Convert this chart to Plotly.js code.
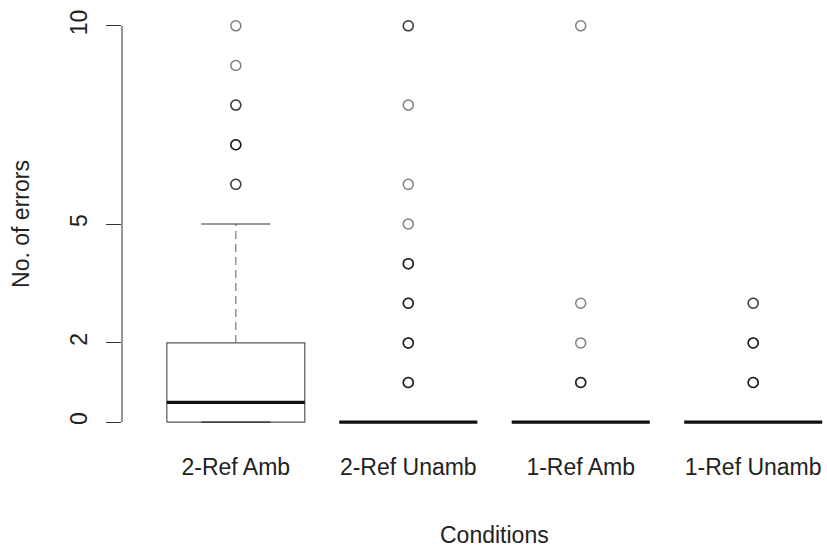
<!DOCTYPE html>
<html>
<head>
<meta charset="utf-8">
<script src="https://cdn.plot.ly/plotly-3.0.1.min.js"></script>
<style>html,body{margin:0;padding:0;background:#fff;}#chart{width:827px;height:549px;}</style>
</head>
<body>
<div id="chart"></div>
<script>
// ---- data ----
var categories = ["2-Ref Amb", "2-Ref Unamb", "1-Ref Amb", "1-Ref Unamb"];
var q1 = [0, 0, 0, 0];
var median = [0.5, 0, 0, 0];
var q3 = [2, 0, 0, 0];
var lowerWhisker = [0, 0, 0, 0];
var upperWhisker = [5, 0, 0, 0];
var outliers2RefAmb = [6, 6, 7, 7, 7, 8, 8, 9, 10];
var outliers2RefUnamb = [1, 1, 1, 2, 2, 2, 3, 3, 3, 4, 4, 4, 5, 6, 8, 10, 10];
var outliers1RefAmb = [1, 1, 1, 2, 3, 10];
var outliers1RefUnamb = [1, 1, 1, 2, 2, 2, 3, 3];
var yTicks = [0, 2, 5, 10];
var xTitle = "Conditions";
var yTitle = "No. of errors";

var outlierGroups = [outliers2RefAmb, outliers2RefUnamb, outliers1RefAmb, outliers1RefUnamb];

// ---- build box geometry from data ----
var boxW = 0.4, capW = 0.2;
var bx = [], by = [], mx = [], my = [], wx = [], wy = [], sx = [], sy = [];
categories.forEach(function (c, i) {
  var p = i + 1;
  bx.push(p - boxW, p + boxW, p + boxW, p - boxW, p - boxW, null);
  by.push(q1[i], q1[i], q3[i], q3[i], q1[i], null);
  mx.push(p - boxW, p + boxW, null);
  my.push(median[i], median[i], null);
  wx.push(p, p, null, p, p, null);
  wy.push(q3[i], upperWhisker[i], null, q1[i], lowerWhisker[i], null);
  sx.push(p - capW, p + capW, null, p - capW, p + capW, null);
  sy.push(upperWhisker[i], upperWhisker[i], null, lowerWhisker[i], lowerWhisker[i], null);
});
var ox = [], oy = [];
outlierGroups.forEach(function (g, i) {
  g.forEach(function (v) { ox.push(i + 1); oy.push(v); });
});

var traces = [
  {x: wx, y: wy, mode: 'lines', line: {color: '#777', width: 1.2, dash: '8px,5px'}, hoverinfo: 'skip'},
  {x: bx, y: by, mode: 'lines', line: {color: '#555', width: 1.2}, hoverinfo: 'skip'},
  {x: sx, y: sy, mode: 'lines', line: {color: '#333', width: 1.2}, hoverinfo: 'skip'},
  {x: mx, y: my, mode: 'lines', line: {color: '#111', width: 3.2}, hoverinfo: 'skip'},
  {x: ox, y: oy, mode: 'markers', marker: {symbol: 'circle-open', size: 10, color: 'rgba(0,0,0,0.5)', line: {width: 1.5, color: 'rgba(0,0,0,0.5)'}}, hoverinfo: 'skip'}
];

var font = {family: 'Liberation Sans, Arial, Helvetica, sans-serif', size: 23, color: '#222'};

var layout = {
  width: 827, height: 549,
  margin: {l: 122, r: 0, t: 10, b: 111},
  showlegend: false,
  paper_bgcolor: '#fff', plot_bgcolor: '#fff',
  font: font,
  xaxis: {
    range: [0.34, 4.428],
    tickvals: categories.map(function (c, i) { return i + 1; }),
    ticktext: categories,
    showgrid: false, zeroline: false, showline: false, ticks: '',
    ticklabelstandoff: 13,
    tickfont: font
  },
  yaxis: {
    range: [-0.4, 10.4],
    tickvals: yTicks,
    ticktext: yTicks.map(String),
    tickangle: -90,
    showgrid: false, zeroline: false, showline: false,
    ticks: 'outside', ticklen: 15, tickcolor: '#333', tickwidth: 1,
    ticklabelstandoff: 10,
    tickfont: font,
    title: {text: yTitle, font: font, standoff: 29}
  },
  annotations: [{
    text: xTitle, showarrow: false, font: font,
    xref: 'x', x: (1 + categories.length) / 2,
    yref: 'paper', y: -0.226, yanchor: 'middle', xanchor: 'center'
  }],
  shapes: [{
    type: 'line', xref: 'paper', yref: 'y',
    x0: 0, x1: 0, y0: Math.min.apply(null, yTicks), y1: Math.max.apply(null, yTicks),
    line: {color: '#333', width: 1}
  }]
};

Plotly.newPlot('chart', traces, layout, {displayModeBar: false, staticPlot: true});
</script>
</body>
</html>
